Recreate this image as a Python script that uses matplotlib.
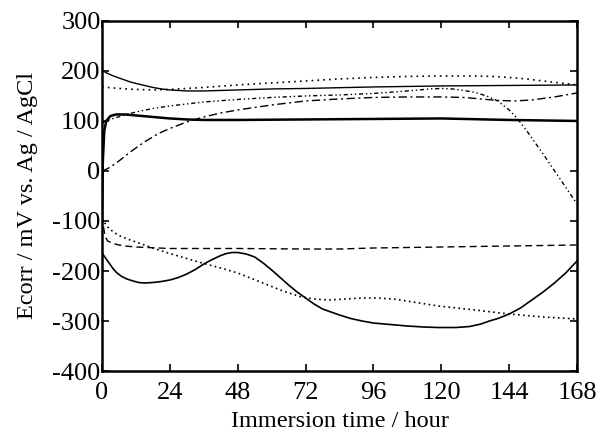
import matplotlib
matplotlib.use("Agg")
import matplotlib.pyplot as plt

# --- data (hour, mV) ---
tA = [0, 1, 2, 4, 6, 8, 10, 12, 15, 18, 21, 24, 30, 36, 48, 60, 72, 96, 120, 144, 168]
eA = [200, 198, 195, 190, 186, 182, 178, 175, 171, 167, 164, 162, 160, 160, 162, 164, 165, 168, 170, 171, 172]

tB = [0, 6, 12, 18, 24, 36, 48, 60, 72, 84, 96, 108, 120, 132, 138, 144, 150, 156, 162, 168]
eB = [168, 165, 163, 162, 163, 167, 172, 176, 180, 184, 187, 189, 190, 190, 189, 187, 184, 180, 176, 172]

tC = [0, 2, 4, 8, 12, 18, 24, 36, 48, 60, 72, 84, 96, 108, 116, 120, 124, 128, 132, 136, 140, 144, 147, 150, 156, 162, 168]
eC = [96, 101, 105, 112, 118, 125, 130, 138, 143, 147, 150, 152, 155, 160, 164, 165, 164, 161, 157, 150, 140, 122, 104, 82, 34, -16, -66]

tD = [0, 1, 3, 6, 10, 15, 20, 24, 30, 36, 42, 48, 60, 72, 84, 96, 108, 120, 128, 134, 140, 146, 152, 160, 168]
eD = [0, 2, 8, 20, 38, 58, 75, 85, 98, 108, 116, 122, 132, 140, 144, 147, 148, 148, 147, 144, 141, 140, 142, 148, 156]

tE = [0, 0.3, 0.8, 1.5, 3, 5, 8, 12, 18, 24, 30, 36, 48, 72, 96, 120, 144, 168]
eE = [-100, 20, 80, 100, 110, 113, 113, 111, 108, 105, 103, 102, 102, 103, 104, 105, 102, 100]

tF = [0, 1, 2, 4, 6, 8, 12, 20, 24, 48, 72, 84, 96, 120, 144, 168]
eF = [-90, -130, -140, -145, -148, -150, -152, -154, -155, -155, -156, -156, -154, -152, -150, -148]

tG = [0, 1, 2, 4, 6, 9, 12, 15, 19, 24, 30, 36, 42, 48, 56, 64, 70, 75, 80, 86, 92, 97, 103, 110, 119, 132, 144, 156, 168]
eG = [-95, -104, -112, -122, -129, -136, -142, -148, -156, -165, -175, -185, -194, -204, -222, -240, -251, -256, -258, -256, -254, -254, -256, -262, -270, -278, -286, -292, -296]

tH = [0, 1, 2, 3, 4, 5.3, 7, 8.8, 11, 13, 15, 18, 21, 24, 27, 30, 33, 36, 39, 42, 44, 46, 48, 51, 54, 57, 60, 63, 66, 69, 72, 75, 78, 81, 84, 88, 92, 96, 102, 108, 114, 119, 125, 130, 134, 137, 140, 144, 148, 152, 156, 160, 164, 168]
eH = [-164, -172, -180, -188, -196, -204, -211, -216, -220, -223, -224, -223, -221, -218, -213, -206, -197, -186, -177, -169, -165, -163, -163, -166, -172, -184, -198, -213, -228, -242, -254, -266, -276, -282, -288, -295, -300, -304, -307, -310, -312, -313, -313, -311, -306, -300, -295, -286, -274, -258, -242, -224, -204, -180]

xticks = [0, 24, 48, 72, 96, 120, 144, 168]
yticks = [-400, -300, -200, -100, 0, 100, 200, 300]

plt.rcParams['font.family'] = ['Liberation Serif', 'DejaVu Serif']
plt.rcParams['axes.unicode_minus'] = False

fig = plt.figure(figsize=(6.09, 4.36), dpi=100)
ax = fig.add_axes([0.1675, 0.149, 0.78, 0.803])

k = 'black'
ax.plot(tA, eA, color=k, lw=1.0, ls='-')
ax.plot(tB, eB, color=k, lw=1.2, ls=(0, (1, 2.5)))
ax.plot(tC, eC, color=k, lw=1.0, ls=(0, (3, 2, 1, 2, 1, 2)))
ax.plot(tD, eD, color=k, lw=1.0, ls=(0, (6, 2.5, 1.5, 2.5)))
ax.plot(tE, eE, color=k, lw=1.8, ls='-')
ax.plot(tF, eF, color=k, lw=1.0, ls=(0, (5, 3)))
ax.plot(tG, eG, color=k, lw=1.2, ls=(0, (1, 2)))
ax.plot(tH, eH, color=k, lw=1.2, ls='-')

ax.set_xlim(0, 168)
ax.set_ylim(-400, 300)
ax.set_xticks(xticks)
ax.set_yticks(yticks)
ax.tick_params(direction='in', length=5, width=1.2, labelsize=19, top=True, right=True, pad=1)
ax.tick_params(axis='x', pad=8)
for s in ax.spines.values():
    s.set_linewidth(1.8)

ax.set_xlabel('Immersion time / hour', fontsize=17.5, labelpad=5)
ax.set_ylabel('Ecorr / mV vs. Ag / AgCl', fontsize=17.5, labelpad=10)

fig.savefig('out.png', dpi=100)
